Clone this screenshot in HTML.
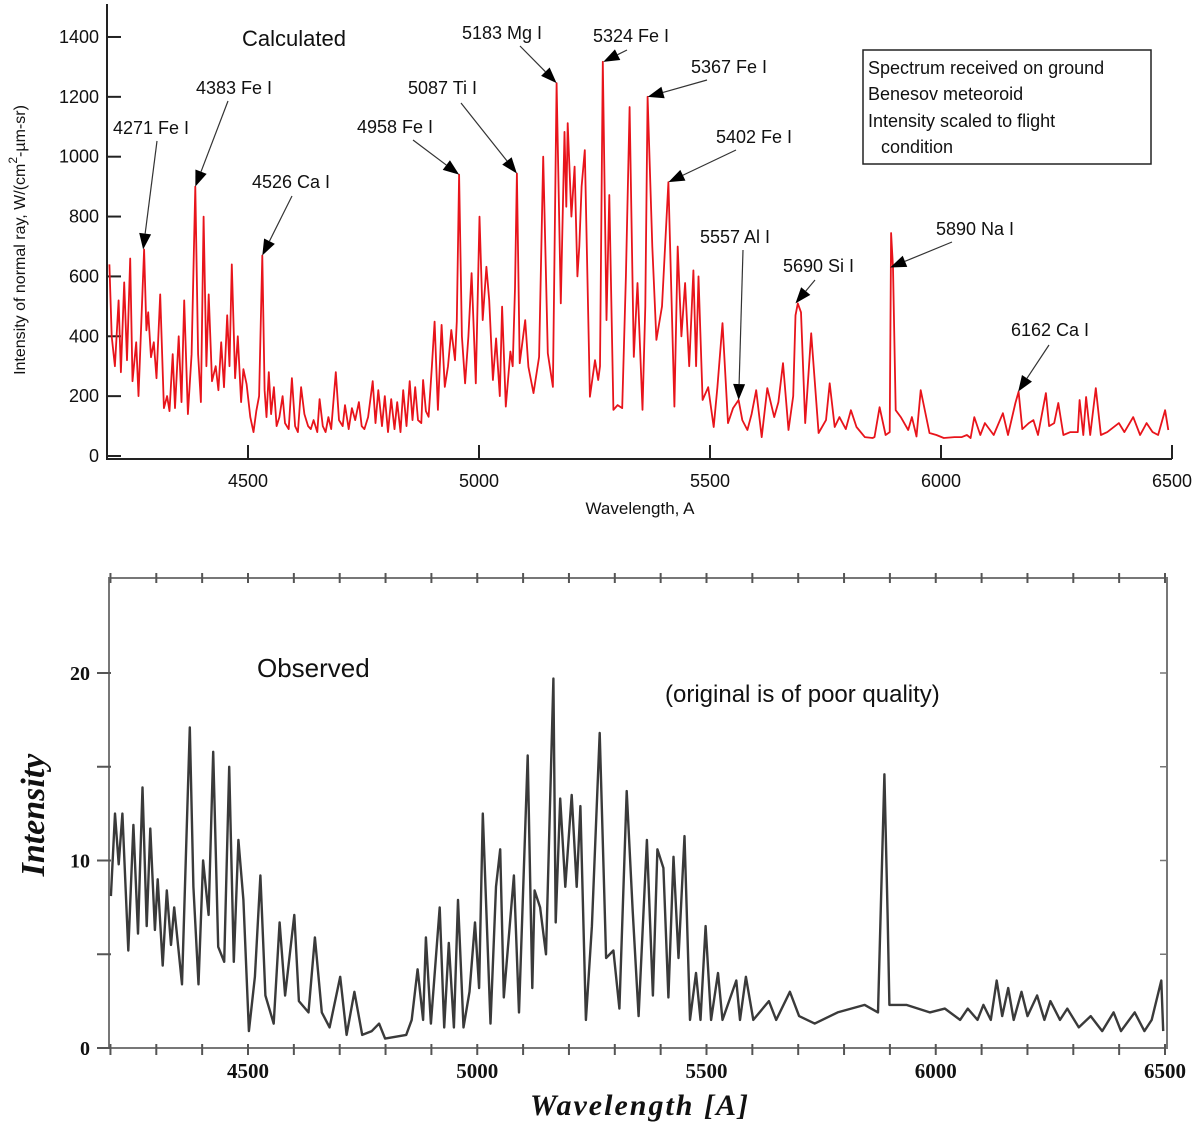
<!DOCTYPE html>
<html><head><meta charset="utf-8"><title>Benesov spectrum</title>
<style>
html,body{margin:0;padding:0;background:#fff;}
svg{display:block;}
.t{font-family:"Liberation Sans",sans-serif;fill:#111;}
.s{font-family:"Liberation Serif",serif;font-weight:bold;fill:#111;}
</style></head>
<body>
<svg id="chart" width="1200" height="1128" viewBox="0 0 1200 1128" xmlns="http://www.w3.org/2000/svg">
<g id="topchart"></g>
<g id="botchart"></g>
</svg>
<script>
// ---- Calculated spectrum (top) ----
const calcWave = [4200,4205,4212,4220,4225,4232,4238,4245,4250,4258,4263,4275,4280,4284,4290,4296,4302,4310,4318,4325,4330,4337,4342,4350,4356,4362,4370,4378,4386,4392,4398,4404,4410,4415,4422,4430,4436,4442,4448,4455,4460,4465,4472,4478,4485,4490,4497,4505,4512,4518,4524,4531,4536,4540,4545,4550,4556,4562,4568,4575,4580,4588,4595,4602,4608,4615,4622,4630,4636,4642,4650,4655,4662,4668,4674,4680,4690,4697,4705,4710,4718,4725,4732,4740,4746,4752,4760,4770,4776,4782,4790,4796,4803,4810,4817,4823,4830,4836,4843,4850,4856,4862,4868,4875,4879,4885,4891,4898,4904,4911,4919,4926,4933,4940,4948,4952,4957,4963,4970,4977,4984,4993,5001,5008,5016,5022,5030,5037,5045,5050,5058,5068,5073,5078,5082,5088,5094,5100,5107,5118,5130,5139,5149,5160,5168,5177,5185,5189,5192,5200,5207,5213,5217,5222,5229,5240,5251,5258,5262,5268,5276,5282,5291,5300,5310,5318,5326,5335,5343,5354,5360,5365,5375,5384,5396,5410,5423,5430,5438,5446,5455,5464,5470,5475,5484,5496,5508,5516,5527,5539,5550,5562,5570,5581,5590,5600,5612,5624,5639,5648,5658,5670,5680,5685,5690,5697,5706,5719,5735,5751,5759,5770,5780,5794,5805,5817,5835,5852,5856,5867,5880,5889,5892,5896,5902,5913,5929,5937,5947,5956,5975,5990,6006,6029,6045,6056,6064,6072,6085,6095,6114,6134,6145,6161,6168,6176,6190,6200,6210,6227,6234,6245,6254,6265,6280,6296,6300,6308,6314,6323,6335,6346,6360,6385,6397,6416,6431,6445,6458,6470,6485,6492,6500];
const calcVal  = [640,400,300,520,280,580,320,660,250,380,200,690,420,480,330,380,260,540,160,200,150,340,160,400,180,520,140,340,900,340,180,800,300,540,250,300,220,380,230,470,300,640,260,400,180,290,240,130,80,150,200,670,220,130,280,140,230,100,130,200,110,90,260,100,80,230,140,100,90,120,80,190,100,80,130,90,280,120,100,170,90,160,120,180,100,90,130,250,110,220,100,200,80,190,90,180,80,220,100,250,120,230,120,110,254,150,131,300,449,154,438,231,300,421,320,450,940,400,243,400,611,243,800,454,632,521,254,393,200,499,165,349,300,560,944,310,380,454,298,210,331,1000,343,231,1246,510,1083,833,1112,800,967,600,700,900,1022,198,320,254,300,1317,454,872,154,170,160,600,1166,331,578,154,500,1200,700,388,500,915,165,700,400,578,300,620,300,600,187,230,97,230,444,110,160,187,120,87,140,220,63,227,130,180,310,87,200,470,510,480,110,410,77,120,243,97,130,90,153,97,63,60,63,163,70,80,745,630,153,130,87,130,65,220,77,70,60,63,63,70,60,130,70,110,70,143,70,177,215,90,110,120,70,210,100,110,177,70,80,80,187,70,197,70,227,70,80,110,80,130,70,110,80,70,153,87];
const calcYTicks = [0,200,400,600,800,1000,1200,1400];
const calcXTicks = [4500,5000,5500,6000,6500];
const calcNotes = ["4271 Fe I","4383 Fe I","4526 Ca I","4958 Fe I","5087 Ti I","5183 Mg I","5324 Fe I","5367 Fe I","5402 Fe I","5557 Al I","5690 Si I","5890 Na I","6162 Ca I"];
const noteTargetW = [4273,4386,4531,4957,5082,5168,5269,5365,5410,5562,5685,5890,6167];
const noteTargetV = [690,900,670,940,944,1246,1317,1200,915,187,510,630,215];

// ---- Observed spectrum (bottom) ----
const obsWave = [4201,4210,4218,4226,4239,4250,4260,4270,4279,4287,4297,4303,4314,4323,4332,4339,4356,4373,4381,4392,4402,4414,4424,4435,4448,4459,4469,4479,4490,4502,4515,4527,4538,4556,4569,4581,4601,4611,4632,4646,4661,4678,4701,4715,4732,4749,4770,4786,4799,4845,4857,4870,4882,4888,4899,4918,4928,4938,4949,4958,4970,4983,4995,5004,5012,5029,5041,5050,5058,5080,5091,5110,5120,5125,5137,5150,5166,5171,5181,5192,5206,5217,5225,5237,5250,5267,5281,5297,5310,5326,5339,5352,5370,5383,5393,5406,5417,5428,5439,5452,5464,5477,5487,5498,5510,5525,5535,5565,5573,5586,5602,5636,5652,5682,5702,5736,5786,5845,5874,5888,5895,5899,5936,5987,6020,6053,6070,6091,6104,6120,6133,6145,6158,6170,6187,6200,6221,6237,6250,6271,6287,6312,6338,6363,6388,6404,6434,6455,6471,6492,6496];
const obsVal  = [8.1,12.5,9.8,12.5,5.2,11.9,6.1,13.9,6.5,11.7,6.3,9.0,4.4,8.4,5.5,7.5,3.4,17.1,8.6,3.4,10.0,7.1,15.8,5.4,4.6,15.0,4.6,11.1,7.9,0.9,3.8,9.2,2.8,1.3,6.7,2.8,7.1,2.5,1.9,5.9,1.9,1.1,3.8,0.7,3.0,0.7,0.9,1.3,0.5,0.7,1.5,4.2,1.5,5.9,1.3,7.5,1.1,5.6,1.1,7.9,1.1,3.0,6.7,3.2,12.5,1.3,8.6,10.6,2.7,9.2,1.9,15.6,3.2,8.4,7.5,5.0,19.7,6.7,13.3,8.6,13.5,8.6,12.9,1.5,6.5,16.8,4.8,5.2,2.1,13.7,7.3,1.7,11.1,2.8,10.6,9.6,2.7,10.2,4.8,11.3,1.5,4.0,1.5,6.5,1.5,4.0,1.5,3.6,1.5,3.8,1.5,2.5,1.5,3.0,1.7,1.3,1.9,2.3,1.9,14.6,7.1,2.3,2.3,1.9,2.1,1.5,2.1,1.5,2.3,1.5,3.6,1.7,3.2,1.5,3.0,1.7,2.8,1.5,2.5,1.5,2.1,1.1,1.7,0.9,1.9,0.9,1.9,0.9,1.5,3.6,0.9];
const obsYTickLabels = [0,10,20];
const obsYTicks = [0,5,10,15,20];
const obsXTickLabels = [4500,5000,5500,6000,6500];

const NS='http://www.w3.org/2000/svg';
function mk(parent, tag, attrs, text){const e=document.createElementNS(NS,tag);for(const k in attrs)e.setAttribute(k,attrs[k]);if(text!==undefined)e.textContent=text;parent.appendChild(e);return e;}
function linePath(ws, vs, fx, fy){
  const n=Math.min(ws.length, vs.length);
  const parts=[];
  for(let i=0;i<n;i++){parts.push((i?'L':'M')+fx(ws[i]).toFixed(1)+','+fy(vs[i]).toFixed(1));}
  return parts.join(' ');
}

// top axes
const tx = w => 248 + (w-4500)*0.462;
const ty = v => 456 - v*0.2993;
const topG = document.getElementById('topchart');
let e;
e=mk(topG,'path',{d:'M107,4 L107,459 L1172,459',fill:'none',stroke:'#222','stroke-width':2});


calcYTicks.forEach(v=>{
  e=mk(topG,'line',{x1:107,x2:121,y1:ty(v),y2:ty(v),stroke:'#222','stroke-width':2});
  
  
  e=mk(topG,'text',{x:99,y:ty(v)+6,'text-anchor':'end','font-size':18,class:'t'},String(v));
  
  
});
calcXTicks.forEach(w=>{
  e=mk(topG,'line',{x1:tx(w),x2:tx(w),y1:445,y2:459,stroke:'#222','stroke-width':2});
  
  
  e=mk(topG,'text',{x:tx(w),y:487,'text-anchor':'middle','font-size':18,class:'t'},String(w));
  
  
});
e=mk(topG,'text',{x:640,y:514,'text-anchor':'middle','font-size':17,class:'t'},'Wavelength, A');


e=mk(topG,'text',{transform:'translate(25,240) rotate(-90)','text-anchor':'middle','font-size':16,class:'t'});


e.innerHTML='Intensity of normal ray, W/(cm<tspan dy="-8" font-size="12">2</tspan><tspan dy="8">-µm-sr)</tspan>';
e=mk(topG,'path',{d:linePath(calcWave,calcVal,tx,ty),fill:'none',stroke:'#e8141b','stroke-width':1.8,'stroke-linejoin':'round'});


e=mk(topG,'text',{x:242,y:46,'font-size':22,class:'t'},'Calculated');


e=mk(topG,'rect',{x:863,y:50,width:288,height:114,fill:'#fff',stroke:'#222','stroke-width':1.5});


[['Spectrum received on ground',868,74],['Benesov meteoroid',868,100],['Intensity scaled to flight',868,127],['condition',881,153]].forEach(r=>{
  e=mk(topG,'text',{x:r[1],y:r[2],'font-size':18,class:'t'},r[0]);
  
  
});
const noteTextX=[113,196,252,357,408,462,593,691,716,700,783,936,1011];
const noteTextY=[134,94,188,133,94,39,42,73,143,243,272,235,336];
const noteFrom=[[157,141],[228,101],[292,196],[413,140],[461,103],[520,46],[627,50],[707,80],[736,150],[743,250],[815,280],[952,242],[1049,345]];
calcNotes.forEach((n,i)=>{
  e=mk(topG,'text',{x:noteTextX[i],y:noteTextY[i],'font-size':18,class:'t'},n);
  
  
  const x2=tx(noteTargetW[i]), y2=ty(noteTargetV[i]);
  const x1=noteFrom[i][0], y1=noteFrom[i][1];
  const dx=x2-x1, dy=y2-y1, L=Math.hypot(dx,dy), ux=dx/L, uy=dy/L;
  const hx=x2-ux*16, hy=y2-uy*16;
  e=mk(topG,'line',{x1:x1,y1:y1,x2:hx,y2:hy,stroke:'#333','stroke-width':1.2});
  
  
  e=mk(topG,'polygon',{points:x2+','+y2+' '+(hx-uy*6)+','+(hy+ux*6)+' '+(hx+uy*6)+','+(hy-ux*6),fill:'#000'});
  
  
});

// bottom axes
const bxf = w => 248 + (w-4500)*0.4585;
const byf = v => 1048 - v*18.75;
const botG=document.getElementById('botchart');
e=mk(botG,'rect',{x:109,y:578,width:1058,height:470,fill:'none',stroke:'#777','stroke-width':2});


obsYTicks.forEach(v=>{
  e=mk(botG,'line',{x1:97,x2:111,y1:byf(v),y2:byf(v),stroke:'#555','stroke-width':2});
  
  
  e=mk(botG,'line',{x1:1160,x2:1167,y1:byf(v),y2:byf(v),stroke:'#777','stroke-width':1.5});
  
  
});
obsYTickLabels.forEach(v=>{
  e=mk(botG,'text',{x:90,y:byf(v)+7,'text-anchor':'end','font-size':20,class:'s'},String(v));
  
  
});
for(let w=4200;w<=6500;w+=100){
  e=mk(botG,'line',{x1:bxf(w),x2:bxf(w),y1:1044,y2:1055,stroke:'#555','stroke-width':2});
  
  
  e=mk(botG,'line',{x1:bxf(w),x2:bxf(w),y1:573,y2:583,stroke:'#555','stroke-width':2});
  
  
}
obsXTickLabels.forEach(w=>{
  e=mk(botG,'text',{x:bxf(w),y:1078,'text-anchor':'middle','font-size':21,class:'s'},String(w));
  
  
});
e=mk(botG,'path',{d:linePath(obsWave,obsVal,bxf,byf),fill:'none',stroke:'#3a3a3a','stroke-width':2.4,'stroke-linejoin':'round'});


e=mk(botG,'text',{x:640,y:1115,'text-anchor':'middle','font-size':30,'font-style':'italic','letter-spacing':2,class:'s'},'Wavelength  [A]');


e=mk(botG,'text',{transform:'translate(44,815) rotate(-90)','text-anchor':'middle','font-size':34,'font-style':'italic',class:'s'},'Intensity');


e=mk(botG,'text',{x:257,y:677,'font-size':26,class:'t'},'Observed');


e=mk(botG,'text',{x:665,y:702,'font-size':24,class:'t'},'(original is of poor quality)');


</script>
</body></html>
